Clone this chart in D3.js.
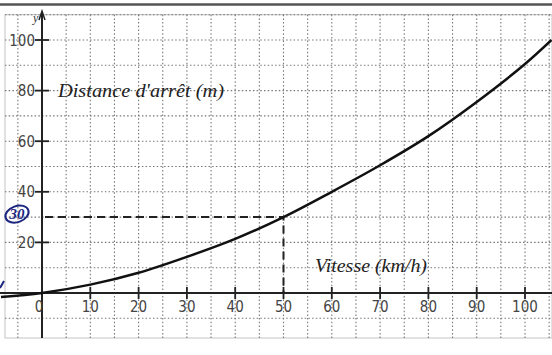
<!DOCTYPE html>
<html>
<head>
<meta charset="utf-8">
<script src="https://cdn.jsdelivr.net/npm/d3@7"></script>
<style>
  body { margin: 0; background: #fff; }
  svg { display: block; }
</style>
</head>
<body>
<div id="chart"></div>
<script>
'use strict'

// speed (km/h) and stopping distance (m)
const vitesse = [-8.5, 0, 10, 20, 30, 40, 50, 60, 70, 80, 90, 100, 105.5]
const distance = [-1.6, 0, 3.3, 8, 14.3, 21.4, 30, 40, 50.5, 62, 75.5, 90.5, 100]
const xTicks = [0, 10, 20, 30, 40, 50, 60, 70, 80, 90, 100]
const yTicks = [20, 40, 60, 80, 100]
const point = { v: 50, d: 30 }

const width = 552
const height = 355

const x = d3.scaleLinear().domain([0, 100]).range([42, 525])
const y = d3.scaleLinear().domain([0, 100]).range([293, 40])

const svg = d3.select('#chart')
  .append('svg')
  .attr('width', width)
  .attr('height', height)

// scanned page frame
svg.append('line')
  .attr('x1', 0).attr('x2', width).attr('y1', 4.5).attr('y2', 4.5)
  .attr('stroke', '#555').attr('stroke-width', 2.5)
svg.append('rect')
  .attr('x', 5).attr('y', y(110)).attr('width', width - 5).attr('height', 338 - y(110))
  .attr('fill', 'none').attr('stroke', '#c4c4c4').attr('stroke-width', 1)

// dotted grid
const grid = svg.append('g')
  .attr('stroke', '#777')
  .attr('stroke-width', 1.1)
  .attr('stroke-dasharray', '1.5,2.2')
grid.selectAll('.vg')
  .data(d3.range(-5, 110, 5).filter(v => v !== 0))
  .enter().append('line')
  .attr('x1', d => x(d)).attr('x2', d => x(d))
  .attr('y1', y(110)).attr('y2', 338)
grid.selectAll('.hg')
  .data(d3.range(-10, 111, 10).filter(v => v !== 0))
  .enter().append('line')
  .attr('x1', 5).attr('x2', width)
  .attr('y1', d => y(d)).attr('y2', d => y(d))

// axes
svg.append('line')
  .attr('x1', 0).attr('x2', width).attr('y1', y(0)).attr('y2', y(0))
  .attr('stroke', '#222').attr('stroke-width', 2)
svg.append('line')
  .attr('x1', x(0)).attr('x2', x(0)).attr('y1', 13).attr('y2', 338)
  .attr('stroke', '#222').attr('stroke-width', 2)
svg.append('path')
  .attr('d', `M${x(0) - 3},${20} L${x(0)},${11} L${x(0) + 3},${20}`)
  .attr('fill', 'none').attr('stroke', '#222').attr('stroke-width', 1.5)
svg.append('text')
  .attr('x', x(0) - 9).attr('y', 22)
  .attr('font-family', 'Liberation Serif').attr('font-style', 'italic')
  .attr('font-size', 12).attr('fill', '#333')
  .text('y')

// ticks + labels
const tickFont = '"DejaVu Sans Condensed", "Liberation Sans Narrow", sans-serif'
svg.append('g').selectAll('line')
  .data(xTicks.filter(d => d !== 0))
  .enter().append('line')
  .attr('x1', d => x(d)).attr('x2', d => x(d))
  .attr('y1', y(0) - 6).attr('y2', y(0) + 6)
  .attr('stroke', '#222').attr('stroke-width', 1.8)
svg.append('g').selectAll('text')
  .data(xTicks)
  .enter().append('text')
  .attr('x', d => d === 0 ? x(d) - 3 : x(d))
  .attr('y', y(0) + 19)
  .attr('text-anchor', 'middle')
  .attr('font-family', tickFont).attr('font-size', 15).attr('fill', '#444')
  .text(d => d)

svg.append('g').selectAll('line')
  .data(yTicks)
  .enter().append('line')
  .attr('x1', x(0) - 7).attr('x2', x(0) + 7)
  .attr('y1', d => y(d)).attr('y2', d => y(d))
  .attr('stroke', '#222').attr('stroke-width', 1.8)
svg.append('g').selectAll('text')
  .data(yTicks)
  .enter().append('text')
  .attr('x', x(0) - 7)
  .attr('y', d => y(d) + 5.5)
  .attr('text-anchor', 'end')
  .attr('font-family', tickFont).attr('font-size', 15).attr('fill', '#444')
  .text(d => d)

// axis titles
svg.append('text')
  .attr('x', 58).attr('y', 97)
  .attr('font-family', 'Liberation Serif').attr('font-style', 'italic')
  .attr('font-size', 18).attr('fill', '#222')
  .attr('textLength', 166).attr('lengthAdjust', 'spacingAndGlyphs')
  .text('Distance d\'arrêt (m)')
svg.append('text')
  .attr('x', 315).attr('y', 272)
  .attr('font-family', 'Liberation Serif').attr('font-style', 'italic')
  .attr('font-size', 18).attr('fill', '#222')
  .attr('textLength', 112).attr('lengthAdjust', 'spacingAndGlyphs')
  .text('Vitesse (km/h)')

// reading lines at 50 km/h
svg.append('path')
  .attr('d', `M${x(0) + 3},${y(point.d)} H${x(point.v)} V${y(0)}`)
  .attr('fill', 'none').attr('stroke', '#222').attr('stroke-width', 2)
  .attr('stroke-dasharray', '8,5')

// curve
const line = d3.line()
  .x((d, i) => x(vitesse[i]))
  .y(d => y(d))
  .curve(d3.curveCatmullRom)
svg.append('path')
  .attr('d', line(distance))
  .attr('fill', 'none').attr('stroke', '#111').attr('stroke-width', 2.5)

// handwritten note
svg.append('ellipse')
  .attr('cx', 17).attr('cy', y(point.d) - 3).attr('rx', 12).attr('ry', 8)
  .attr('fill', 'none').attr('stroke', '#1c2580').attr('stroke-width', 2)
  .attr('transform', `rotate(-20, 17, ${y(point.d) - 3})`)
svg.append('text')
  .attr('x', 17).attr('y', y(point.d) + 2)
  .attr('text-anchor', 'middle')
  .attr('font-family', 'Liberation Serif').attr('font-style', 'italic').attr('font-weight', 'bold')
  .attr('font-size', 15).attr('fill', '#1c2580')
  .text('30')
svg.append('path')
  .attr('d', `M0,${y(0) - 5} L4,${y(0) - 12}`)
  .attr('stroke', '#1c2580').attr('stroke-width', 2)
</script>
</body>
</html>
